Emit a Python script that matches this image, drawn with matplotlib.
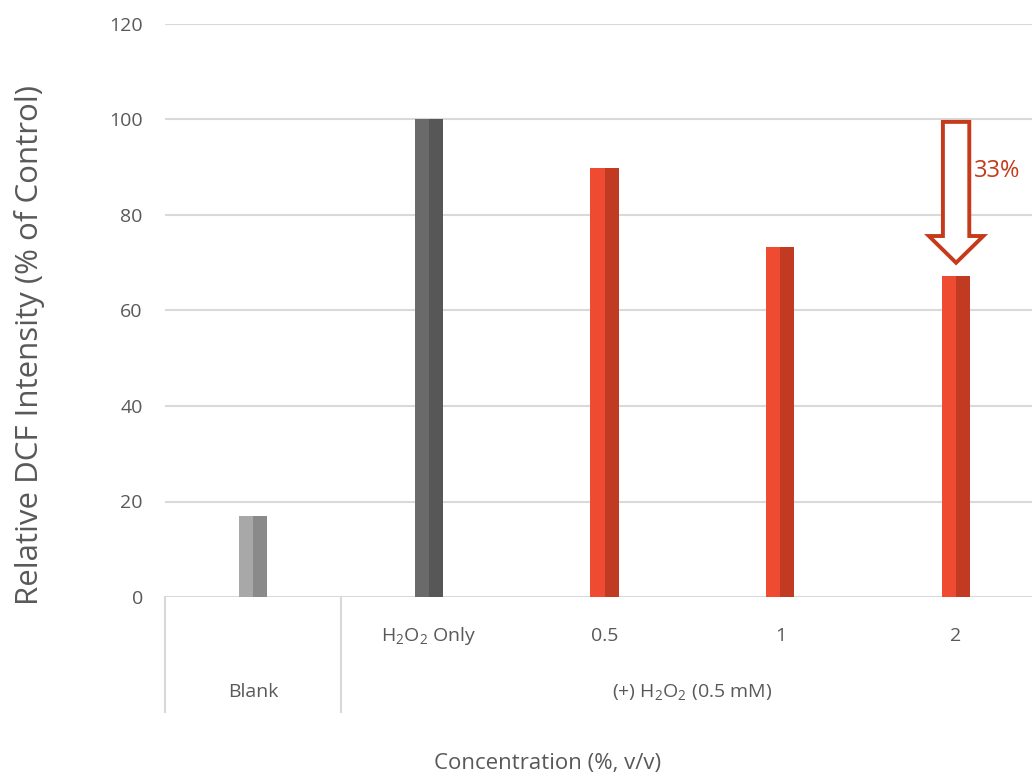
import numpy as np
import matplotlib.pyplot as plt
from matplotlib.patches import Polygon
import matplotlib.transforms as mtransforms

# Data
categories = ["Blank", "H$_2$O$_2$ Only", "0.5", "1", "2"]
values = [17, 100, 89.8, 73.3, 67.2]
group_labels = ["Blank", "(+) H$_2$O$_2$ (0.5 mM)"]
group_spans = [(0, 0), (1, 4)]
y_ticks = [0, 20, 40, 60, 80, 100, 120]

# Two-tone colours per bar (left half, right half)
left_colors = ["#a8a8a8", "#6a6a6a", "#ef4b33", "#ef4b33", "#ef4b33"]
right_colors = ["#8a8a8a", "#575757", "#c13a22", "#c13a22", "#c13a22"]

plt.rcParams["font.family"] = ["Open Sans", "DejaVu Sans"]
plt.rcParams["mathtext.fontset"] = "custom"
plt.rcParams["mathtext.rm"] = "Open Sans"
plt.rcParams["mathtext.default"] = "regular"

fig = plt.figure(figsize=(10.32, 7.81), dpi=100)
ax = fig.add_axes([165 / 1032, 1 - 597 / 781, (1044 - 165) / 1032, 573 / 781])

x = np.arange(len(categories))
w = 0.16
ax.bar(x - w / 4, values, width=w / 2, color=left_colors, zorder=3)
ax.bar(x + w / 4, values, width=w / 2, color=right_colors, zorder=3)

ax.set_xlim(-0.5, len(categories) - 0.5)
ax.set_ylim(0, 120)
ax.set_yticks(y_ticks)
ax.set_yticklabels([str(t) for t in y_ticks], fontsize=14, color="#595959")
ax.tick_params(axis="y", length=0, pad=16)
ax.set_xticks([])
ax.grid(axis="y", color="#d9d9d9", linewidth=1.5, zorder=0)
for s in ax.spines.values():
    s.set_visible(False)

# category axis below the plot
trans = mtransforms.blended_transform_factory(ax.transData, ax.transAxes)
for xs in [-0.5, 0.5]:
    ax.plot([xs, xs], [0, -0.2007], transform=trans, color="#d9d9d9",
            linewidth=1.5, clip_on=False)
for i, c in enumerate(categories):
    if i == 0:
        continue
    ax.text(i, -0.068, c, transform=trans, ha="center", va="center",
            fontsize=14, color="#595959")
for lab, (a, b) in zip(group_labels, group_spans):
    ax.text((a + b) / 2, -0.166, lab, transform=trans, ha="center", va="center",
            fontsize=14, color="#595959")

fig.text(548 / 1032, 1 - 763 / 781, "Concentration (%, v/v)", ha="center",
         va="center", fontsize=16, color="#595959")
fig.text(30 / 1032, 1 - 345 / 781, "Relative DCF Intensity (% of Control)",
         rotation=90, ha="center", va="center", fontsize=22.5, color="#595959")

# hollow arrow showing the reduction
xc = 4
top = values[1] - 0.5
tip = values[4] + 2.8
head_len = 5.6
sw, hw = 0.075, 0.155
arrow = Polygon([(xc - sw, top), (xc + sw, top), (xc + sw, tip + head_len),
                 (xc + hw, tip + head_len), (xc, tip), (xc - hw, tip + head_len),
                 (xc - sw, tip + head_len)], closed=True, facecolor="white",
                edgecolor="#c43a1a", linewidth=2.8, zorder=4, joinstyle="miter")
ax.add_patch(arrow)
drop = round(values[1] - values[4])
ax.text(xc + 0.235, 89.2, f"{drop}%", ha="center", va="center", fontsize=17,
        color="#c43a1a", zorder=5)

fig.savefig("out.png", dpi=100)
